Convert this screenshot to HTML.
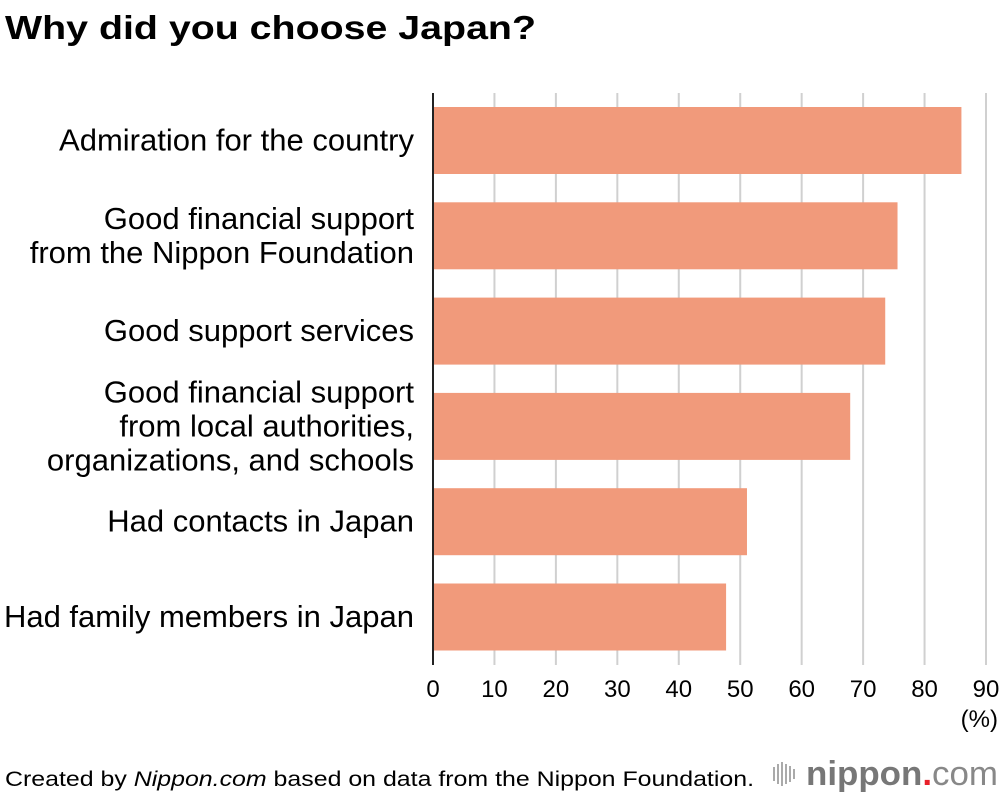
<!DOCTYPE html>
<html><head><meta charset="utf-8"><style>
body{margin:0;background:#fff;width:1000px;height:796px;overflow:hidden;font-family:"Liberation Sans",Arial,sans-serif}
</style></head><body>
<svg width="1000" height="796" xmlns="http://www.w3.org/2000/svg" font-family="Liberation Sans, Arial, sans-serif">
<text x="5" y="39" font-size="33" font-weight="bold" fill="#000" textLength="531" lengthAdjust="spacingAndGlyphs">Why did you choose Japan?</text>
<g id="grid"></g>
<g id="bars"></g>
<g id="labels"></g>
<g id="ticks"></g>
<line x1="433" y1="93" x2="433" y2="665" stroke="#222" stroke-width="2"/>
<text x="998" y="727" font-size="24" text-anchor="end">(%)</text>
<text x="5" y="786" font-size="21" textLength="749" lengthAdjust="spacingAndGlyphs">Created by <tspan font-style="italic">Nippon.com</tspan> based on data from the Nippon Foundation.</text>
<g>
<g stroke="#aaa" stroke-width="2">
<line x1="774" y1="767" x2="774" y2="781"/><line x1="778" y1="764" x2="778" y2="784"/><line x1="782" y1="762" x2="782" y2="786"/><line x1="786" y1="764" x2="786" y2="784"/><line x1="790" y1="766" x2="790" y2="782"/><line x1="794" y1="769" x2="794" y2="779"/>
</g>
<text x="806" y="785" font-size="34" font-weight="bold" fill="#777" textLength="192" lengthAdjust="spacingAndGlyphs">nippon<tspan fill="#e8202a">.</tspan><tspan font-weight="normal" fill="#888">com</tspan></text>
</g>
</svg>
<script>
const categories=[["Admiration for the country"],["Good financial support","from the Nippon Foundation"],["Good support services"],["Good financial support","from local authorities,","organizations, and schools"],["Had contacts in Japan"],["Had family members in Japan"]];
const values=[86,75.6,73.6,67.9,51.1,47.7];
const tickValues=[0,10,20,30,40,50,60,70,80,90];
const NS="http://www.w3.org/2000/svg";
const x=v=>433+v*(986-433)/90;
const y=i=>107+i*95.3;
const bh=67;
function mk(t,a,p){const e=document.createElementNS(NS,t);for(const k in a)e.setAttribute(k,a[k]);p.appendChild(e);return e;}
const grid=document.getElementById('grid'),bars=document.getElementById('bars'),labels=document.getElementById('labels'),ticks=document.getElementById('ticks');
tickValues.forEach(v=>{
 if(v>0){const l=mk('line',{x1:x(v),x2:x(v),y1:93,y2:665,stroke:'#d0d0d0','stroke-width':2},grid);
 
 }
 const t=mk('text',{x:x(v),y:697,'font-size':24,'text-anchor':'middle'},ticks);t.textContent=v;
 
 
});
values.forEach((v,i)=>{
 const r=mk('rect',{x:434,y:y(i),width:x(v)-434,height:bh,fill:'#f19a7b'},bars);
 
 
 const lines=categories[i];const cy=y(i)+bh/2;const lh=34;
 const t=mk('text',{'font-size':31,'text-anchor':'end'},labels);
 
 
 lines.forEach((s,j)=>{const ts=mk('tspan',{x:414,y:cy+10+(j-(lines.length-1)/2)*lh},t);ts.textContent=s;});
});
</script>
</body></html>
